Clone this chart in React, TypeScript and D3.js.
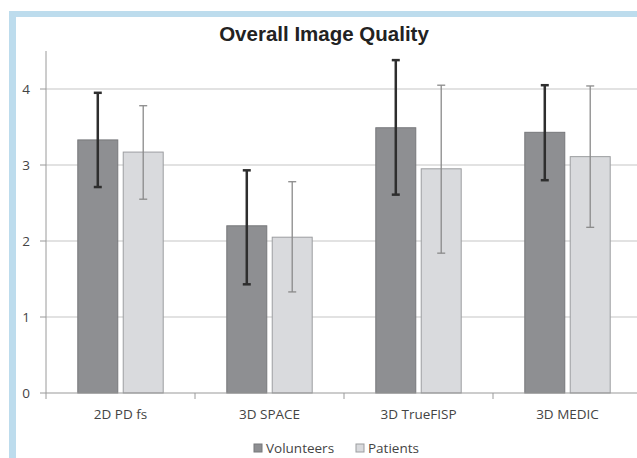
import React, { useEffect, useRef } from 'react';
import * as d3 from 'd3';

const categories = ['2D PD fs', '3D SPACE', '3D TrueFISP', '3D MEDIC'];
const seriesNames = ['Volunteers', 'Patients'];
const volunteerMeans = [3.33, 2.2, 3.49, 3.43];
const volunteerLow = [2.71, 1.43, 2.61, 2.8];
const volunteerHigh = [3.95, 2.93, 4.38, 4.05];
const patientMeans = [3.17, 2.05, 2.95, 3.11];
const patientLow = [2.55, 1.33, 1.84, 2.18];
const patientHigh = [3.78, 2.78, 4.05, 4.04];
const yTicks = [0, 1, 2, 3, 4];
const title = 'Overall Image Quality';

const W = 637;
const H = 458;

export default function App() {
  const ref = useRef<SVGSVGElement>(null);

  useEffect(() => {
    const svg = d3.select(ref.current);
    svg.selectAll('*').remove();

    const left = 46, right = 642, top = 51, bottom = 393;
    const font = '"Open Sans", Lato, sans-serif';

    // frame
    svg.append('rect').attr('width', W).attr('height', H).attr('fill', '#fff');
    svg.append('rect').attr('x', 9).attr('y', 11).attr('width', W - 9).attr('height', H - 11).attr('fill', '#bddced');
    svg.append('rect').attr('x', 16).attr('y', 17).attr('width', W - 16).attr('height', H - 17).attr('fill', '#fff');

    const x0 = d3.scaleBand().domain(categories).range([left, right]);
    const x1 = d3.scaleBand().domain(seriesNames).range([0, x0.bandwidth()])
      .paddingInner(0.12).paddingOuter(0.7);
    const y = d3.scaleLinear().domain([0, 4.5]).range([bottom, top]);

    // gridlines
    svg.selectAll('.grid').data(yTicks.filter(t => t > 0)).join('line')
      .attr('class', 'grid')
      .attr('x1', left).attr('x2', W)
      .attr('y1', d => y(d)).attr('y2', d => y(d))
      .attr('stroke', '#d9d9d9').attr('stroke-width', 1.5);

    // y axis
    svg.append('line').attr('x1', left).attr('x2', left).attr('y1', top).attr('y2', bottom)
      .attr('stroke', '#9a9a9a').attr('stroke-width', 1);
    svg.selectAll('.ytick').data(yTicks).join('line')
      .attr('class', 'ytick')
      .attr('x1', left - 6).attr('x2', left)
      .attr('y1', d => y(d)).attr('y2', d => y(d))
      .attr('stroke', '#9a9a9a');
    svg.selectAll('.ylab').data(yTicks).join('text')
      .attr('class', 'ylab')
      .attr('x', 30).attr('y', d => y(d) + 5)
      .attr('text-anchor', 'end')
      .style('font-family', font).style('font-size', '13.5px').style('fill', '#444')
      .text(d => d);

    const rows = [
      { name: seriesNames[0], mean: volunteerMeans, lo: volunteerLow, hi: volunteerHigh,
        fill: '#8e8f92', stroke: '#77787b', err: '#2e2e2e', ew: 2.5 },
      { name: seriesNames[1], mean: patientMeans, lo: patientLow, hi: patientHigh,
        fill: '#d9dadd', stroke: '#9c9da0', err: '#8a8a8a', ew: 1.3 },
    ];

    rows.forEach(s => {
      const g = svg.append('g');
      const data = categories.map((c, i) => ({ c, v: s.mean[i], lo: s.lo[i], hi: s.hi[i] }));
      g.selectAll('rect').data(data).join('rect')
        .attr('x', d => x0(d.c)! + x1(s.name)!)
        .attr('y', d => y(d.v))
        .attr('width', x1.bandwidth())
        .attr('height', d => bottom - y(d.v))
        .attr('fill', s.fill).attr('stroke', s.stroke).attr('stroke-width', 1);
    });

    // x axis
    svg.append('line').attr('x1', left).attr('x2', W).attr('y1', bottom).attr('y2', bottom)
      .attr('stroke', '#9a9a9a').attr('stroke-width', 1.2);
    svg.selectAll('.xtick').data(categories).join('line')
      .attr('class', 'xtick')
      .attr('x1', d => x0(d)!).attr('x2', d => x0(d)!)
      .attr('y1', bottom).attr('y2', bottom + 6)
      .attr('stroke', '#9a9a9a');
    svg.selectAll('.xlab').data(categories).join('text')
      .attr('class', 'xlab')
      .attr('x', d => x0(d)! + x0.bandwidth() / 2).attr('y', 419)
      .attr('text-anchor', 'middle')
      .style('font-family', font).style('font-size', '13.5px').style('fill', '#444')
      .text(d => d);

    // error bars
    rows.forEach(s => {
      const g = svg.append('g');
      const data = categories.map((c, i) => ({ c, lo: s.lo[i], hi: s.hi[i] }));
      const cx = (d: { c: string }) => x0(d.c)! + x1(s.name)! + x1.bandwidth() / 2;
      g.selectAll('.stem').data(data).join('line')
        .attr('class', 'stem')
        .attr('x1', cx).attr('x2', cx)
        .attr('y1', d => y(d.lo)).attr('y2', d => y(d.hi))
        .attr('stroke', s.err).attr('stroke-width', s.ew);
      ['lo', 'hi'].forEach(k => {
        g.selectAll('.cap' + k).data(data).join('line')
          .attr('class', 'cap' + k)
          .attr('x1', d => cx(d) - 4).attr('x2', d => cx(d) + 4)
          .attr('y1', d => y((d as any)[k])).attr('y2', d => y((d as any)[k]))
          .attr('stroke', s.err).attr('stroke-width', s.ew);
      });
    });

    // title
    svg.append('text').attr('x', 324).attr('y', 41).attr('text-anchor', 'middle')
      .style('font-family', '"Liberation Sans", Arial, sans-serif')
      .style('font-size', '20.5px').style('font-weight', 'bold').style('fill', '#222')
      .text(title);

    // legend
    const legendX = [254, 356];
    rows.forEach((s, i) => {
      svg.append('rect').attr('x', legendX[i]).attr('y', 444).attr('width', 8).attr('height', 8)
        .attr('fill', s.fill).attr('stroke', s.stroke);
      svg.append('text').attr('x', legendX[i] + 12).attr('y', 453)
        .style('font-family', font).style('font-size', '13.5px').style('fill', '#444')
        .text(s.name);
    });
  }, []);

  return (
    <div style={{ position: 'absolute', left: 0, top: 0 }}>
      <svg ref={ref} width={W} height={H} style={{ display: 'block' }} />
    </div>
  );
}
